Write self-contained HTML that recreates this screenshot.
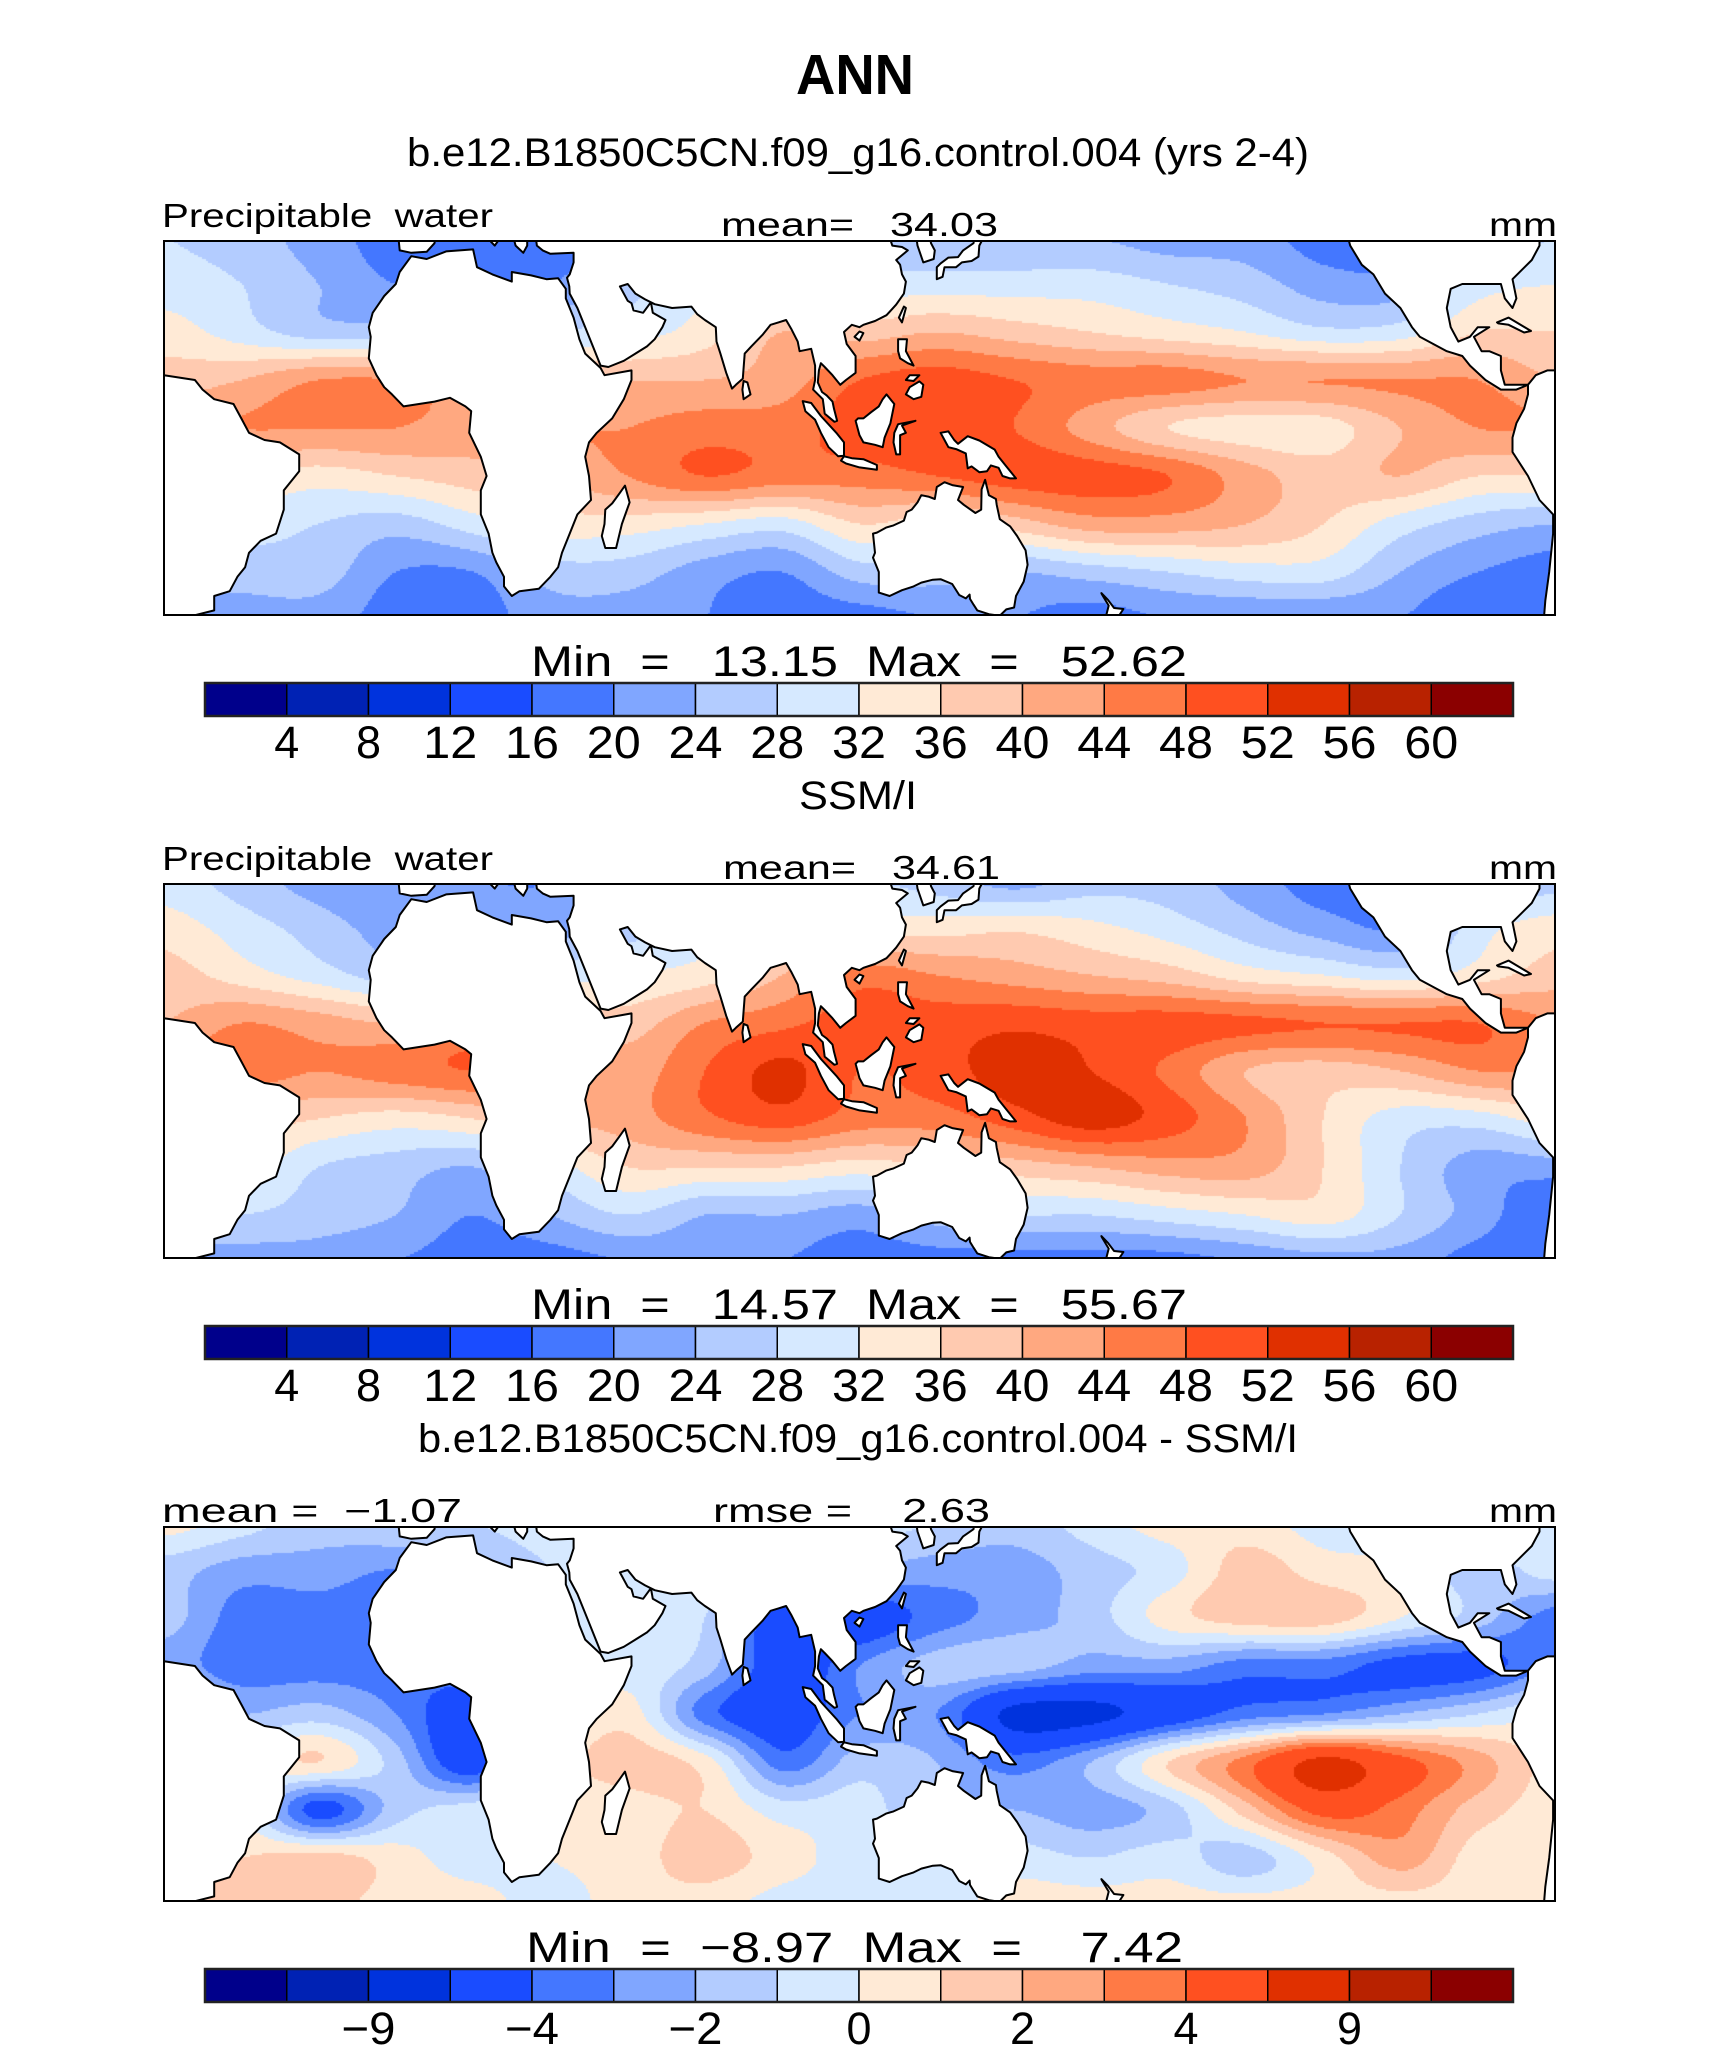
<!DOCTYPE html>
<html><head><meta charset="utf-8"><title>ANN Precipitable water</title>
<style>
html,body{margin:0;padding:0;background:#fff;}
#wrap{position:relative;width:1710px;height:2067px;overflow:hidden;background:#fff;}
canvas{position:absolute;left:164px;}
svg{position:absolute;left:0;top:0;}
text{font-family:"Liberation Sans",sans-serif;fill:#000;white-space:pre;}
</style></head>
<body>
<div id="wrap">
<canvas id="c1" width="1391" height="374" style="top:241px"></canvas>
<canvas id="c2" width="1391" height="374" style="top:884px"></canvas>
<canvas id="c3" width="1391" height="374" style="top:1527px"></canvas>
<svg id="ov" width="1710" height="2067" xmlns="http://www.w3.org/2000/svg" xml:space="preserve">
<text x="855" y="94" text-anchor="middle" font-size="57" font-weight="bold" textLength="118" lengthAdjust="spacingAndGlyphs">ANN</text>
<text x="858" y="166" text-anchor="middle" font-size="40" textLength="902" lengthAdjust="spacingAndGlyphs">b.e12.B1850C5CN.f09_g16.control.004 (yrs 2-4)</text>
<text x="858" y="809" text-anchor="middle" font-size="40" textLength="118" lengthAdjust="spacingAndGlyphs">SSM/I</text>
<text x="858" y="1452" text-anchor="middle" font-size="40" textLength="880" lengthAdjust="spacingAndGlyphs">b.e12.B1850C5CN.f09_g16.control.004 - SSM/I</text>
<text x="162" y="227" font-size="33" textLength="331" lengthAdjust="spacingAndGlyphs">Precipitable  water</text>
<text x="721" y="236" font-size="33" textLength="277" lengthAdjust="spacingAndGlyphs">mean=   34.03</text>
<text x="1557" y="236" font-size="33" text-anchor="end" textLength="68" lengthAdjust="spacingAndGlyphs">mm</text>
<text x="162" y="870" font-size="33" textLength="331" lengthAdjust="spacingAndGlyphs">Precipitable  water</text>
<text x="723" y="879" font-size="33" textLength="277" lengthAdjust="spacingAndGlyphs">mean=   34.61</text>
<text x="1557" y="879" font-size="33" text-anchor="end" textLength="68" lengthAdjust="spacingAndGlyphs">mm</text>
<text x="162" y="1522" font-size="33" textLength="300" lengthAdjust="spacingAndGlyphs">mean =  −1.07</text>
<text x="713" y="1522" font-size="33" textLength="277" lengthAdjust="spacingAndGlyphs">rmse =    2.63</text>
<text x="1557" y="1522" font-size="33" text-anchor="end" textLength="68" lengthAdjust="spacingAndGlyphs">mm</text>
<text x="531" y="676" font-size="43" textLength="656" lengthAdjust="spacingAndGlyphs">Min  =   13.15  Max  =   52.62</text>
<text x="531" y="1319" font-size="43" textLength="656" lengthAdjust="spacingAndGlyphs">Min  =   14.57  Max  =   55.67</text>
<text x="526" y="1962" font-size="43" textLength="657" lengthAdjust="spacingAndGlyphs">Min  =  −8.97  Max  =    7.42</text>
<g id="maps"></g>
<g id="bars"></g>
</svg>
</div>
<script>
// ---------- data ----------
const gridLons = [-70,-50,-30,-10,10,30,50,70,90,110,130,150,170,190,210,230,250,270,290];
const gridLats = [40,30,20,10,0,-10,-20,-30,-40];
const modelPW = [
 [28,26,22,18,18,18,18,20,24,24,24,24,24,22,22,18,18,24,28],
 [30,28,24,20,20,20,26,30,32,30,30,30,30,28,26,22,22,30,32],
 [34,30,26,26,26,28,30,34,40,38,40,38,36,34,32,29,30,36,36],
 [38,40,44,44,40,40,40,40,42,48,50,48,46,46,44,44,44,44,40],
 [42,44,44,44,42,44,44,46,46,50,50,48,42,36,34,34,40,44,44],
 [36,36,34,36,38,40,44,48,46,46,48,50,50,48,42,38,40,36,36],
 [30,30,28,26,30,34,34,32,30,36,34,38,42,42,40,36,30,26,24],
 [26,26,26,20,20,26,26,22,20,26,26,24,26,28,30,30,24,20,18],
 [22,22,22,18,18,22,22,20,18,18,20,20,18,20,20,20,20,16,18]
];
const obsPW = [
 [30,26,22,20,20,20,22,24,26,28,26,22,26,26,22,18,20,24,26],
 [34,30,26,22,22,22,26,30,34,34,34,35,33,30,26,22,20,30,34],
 [38,34,30,26,28,30,32,34,40,46,44,42,40,38,34,32,30,34,38],
 [40,44,42,40,44,40,38,44,47,50,50,51,50,50,49,48,48,48,44],
 [44,46,44,46,48,46,42,48,53,48,50,54,52,47,40,38,40,44,44],
 [38,38,36,34,36,40,42,47,50,46,46,50,54,50,44,36,30,30,34],
 [34,34,28,26,24,30,36,36,36,34,36,38,40,42,42,36,28,22,22],
 [28,28,26,24,20,24,28,24,24,22,26,28,28,30,32,34,28,22,16],
 [22,22,22,20,18,18,20,22,20,18,18,18,18,18,20,22,22,18,18]
];
const diffPW = [
 [0.5,-0.5,-1.5,-1,-1,-0.5,-0.5,-0.5,-0.5,-0.5,-1,-1.5,-0.5,0.5,0.5,-0.5,-0.5,-0.5,-0.5],
 [-1.5,-2.5,-2.5,-3,-2,-1,-0.5,-0.5,-1,-2,-2.5,-2.5,-1.5,-0.5,1.5,0.5,0,-1.5,-0.5],
 [-1.5,-3.5,-3.5,-3.5,-2,-1,-1,-1,-5,-5,-3.5,-2.5,-1.5,0.5,1.5,1.5,0,-1.5,-3.5],
 [-2.5,-3.5,-3.5,-3.5,-3,-1,-0.5,-1.5,-5,-3,-1.5,-1.5,-2.5,-2.5,-3.5,-3.5,-4.5,-4.5,-3],
 [-1,-2,-1.5,-3,-5,-1,0.5,-3.5,-5,-3,-3,-6.5,-6.5,-5,-3.5,-3,-2,-1,0],
 [0,0,1,-1.5,-5,0,1.5,0.5,-3.5,-1.5,-2,-3.5,-2,1,3.5,6.5,4.5,2.5,0.5],
 [0,0,-4.5,-1.5,-0.5,0,0.5,1,-0.5,-0.5,-2,-2,-2.5,-1.5,1.5,4.5,3.5,1.5,0.5],
 [1,1,1.5,0.5,-0.5,0,0.5,1.5,0.5,-0.5,-0.5,-0.5,-1,-0.5,-1.5,0.5,2.5,0.5,0.5],
 [0.5,1.5,1.5,0.5,0.5,-0.5,0.5,0.5,-0.5,-0.5,-0.5,0.5,0.5,0.5,0.5,0.5,0.5,0.5,0.5]
];
const pwLevels = [4,8,12,16,20,24,28,32,36,40,44,48,52,56,60];
const pwTickLabels = ["4","8","12","16","20","24","28","32","36","40","44","48","52","56","60"];
const diffLevels = [-12,-9,-6,-4,-3,-2,-1,0,1,2,3,4,6,9,12];
const diffTickValues = [-9,-4,-2,0,2,4,9];
const diffTickLabels = ["−9","−4","−2","0","2","4","9"];
const colors = ["#00008B","#0022B4","#0033DD","#1A4CFF","#4477FF","#80A6FF","#B3CCFF","#D6E9FF",
 "#FFEAD6","#FFCAB0","#FFA880","#FF7A45","#FF5020","#E03000","#B82200","#8B0000"];

const continents = {
 "south-america-east":[[-70,11],[-66,10.5],[-62,10],[-60,8],[-57,6],[-52,5],[-50,2],[-48,-1],[-44,-2.5],[-40,-3],[-35,-5.5],[-35,-9],[-39,-13],[-39,-17],[-41,-22],[-45,-23.5],[-48,-26],[-49,-29],[-51,-31],[-53,-34],[-57,-35],[-57,-38],[-62,-39],[-65,-41],[-70,-41]],
 "south-america-west":[[283,9],[285,11],[288,12],[290,12],[290,-41],[287,-41],[287.5,-36],[288.5,-30],[289.5,-22],[289.5,-18],[286,-15],[283,-10],[279,-5],[279,-2],[280,1],[282,4],[283,7]],
 "north-america":[[236,41],[237,38],[240,34],[243,32],[246,28],[250,25],[253,21],[255,19],[262,16],[266,15],[268,13],[272,10],[276,8],[280,8],[283,9],[277,9],[276,12],[276,15],[273,16],[271,16],[269,19],[273,21],[270,21],[268,19],[265,18],[263,21],[262,25],[263,29],[266,30],[270,30],[276,30],[277,27],[279,25],[280,27],[279,31],[284,35],[286,38],[286,41]],
 "cuba":[[275,22],[278,23],[283.8,20.2],[282,19.9],[278,21.5],[275.3,21.8]],
 "africa":[[-17,21],[-16,24],[-13,27.5],[-10,30],[-9,32.5],[-6,35.8],[-2,35.2],[3,36.8],[10,37.2],[11,33.5],[15,32],[20,30.5],[20,32.5],[25,31.8],[29,31],[32,31.2],[34,29],[34,27],[36,23],[37.5,18.5],[39,15.5],[43,12.5],[44,11],[51,12],[51,10],[49,6],[46,2],[42,-1],[40,-3],[39,-6],[40,-10],[40.5,-15],[37,-18],[35,-22],[33,-26],[32,-29],[30,-31],[27,-33.5],[22,-34],[20,-35],[18,-33],[18,-31],[16,-28],[15,-26],[14,-22],[12,-18],[12,-13],[13.5,-10],[12,-6],[9,-1],[9.5,3.5],[8,4.5],[4,6.3],[0,5.5],[-4,5],[-8,4.5],[-11,7],[-13,8.5],[-15,11],[-17,14.5],[-16.5,19]],
 "iberia":[[-9.5,41],[-9,37],[-6,36.5],[-2,36.7],[0,38.5],[0.5,41]],
 "italy":[[12,41],[15.6,38],[16.5,39],[17.5,40.3],[16,41]],
 "greece":[[20,41],[21,38],[23,36.5],[24,38],[24,41]],
 "asia":[[26,41],[26.5,38],[28,37],[30,36.3],[36,36.5],[36,34.5],[35,32],[34.3,31.3],[34.9,29.5],[35,28],[37,25],[39,21],[41,17],[43,13],[45,12.7],[49,14],[52,15.5],[55,17],[57,18.5],[59,21],[59.8,22.5],[56.5,24],[56,26.2],[54,24],[51.5,24.5],[51,26],[50,26.5],[48,29.5],[50,30],[52,28],[54.5,26.8],[57,25.8],[61.5,25],[66.5,25.3],[68,23.7],[70,22.5],[72.8,21],[73,18],[74,15.5],[75.5,11.5],[77,8.2],[78,9],[79.8,10.3],[80.3,15.5],[82,17],[85,19.5],[87,21.5],[89,22],[91,22.5],[92.3,20.7],[94,18],[94.5,16],[97.5,16.5],[98.5,13],[98.5,10],[98,8],[100.5,6],[101,3],[103.5,1.3],[104.2,1.5],[103.4,4],[103,5.5],[101.5,6.8],[100.3,7.5],[99.2,9.5],[99.5,12],[100,13.5],[101,12.7],[103,11],[105,9],[106.5,10],[109,11.5],[109,15],[106.7,17.5],[106,20],[108,21.5],[110,21],[111,21.5],[114,22.3],[117,23.5],[119.5,25.7],[121.5,28],[122,30.5],[121,32],[120.5,34],[119.5,35],[122.5,37],[121,37.7],[118.5,38],[118,39.2],[121,40],[121.5,41]],
 "korea":[[124.5,41],[125,38],[126.5,34.5],[129.2,35.2],[129.5,37],[128.5,38.5],[128,41]],
 "japan":[[130,31],[131.5,31.5],[132,33.5],[135,33.5],[136.5,34.5],[139,34.8],[140.8,35.7],[141,38],[142,39.5],[142,41],[140,41],[139.5,38.5],[136.8,37],[135.5,35.6],[133,35.5],[131,34.3],[130,33.5]],
 "taiwan":[[120.2,23],[121,22],[122,25],[121.5,25.3]],
 "hainan":[[108.7,19],[110,18.2],[111,19.8],[110,20.1]],
 "luzon":[[120,18.5],[122.3,18.5],[122,16],[124,13],[122.5,13.5],[120.5,14.5],[120,16]],
 "visayas":[[123,11],[125.5,11],[124,9.8],[122,10]],
 "mindanao":[[122,7],[124,6],[126,6.5],[126.5,9],[125.5,9.7],[123,8.5]],
 "borneo":[[109,1.5],[110,-1.5],[111,-3],[114,-3.5],[116,-4],[116.5,-2],[118,1],[119,5],[117,7],[116,6],[115,4.5],[113,3.3],[111,2],[109.6,2]],
 "sumatra":[[95.3,5.6],[97.5,5.2],[100,2.5],[104,-1],[106,-3],[106,-5.8],[104.5,-5.9],[102,-4],[100,-1],[98.5,1.7],[96,3.5]],
 "java":[[105.2,-6.8],[106,-5.9],[108,-6.3],[111,-6.5],[114.5,-7.7],[114.5,-8.7],[110,-8.2],[106.5,-7.4]],
 "sulawesi":[[119.5,-5.5],[120.5,-5.5],[120.5,-1.5],[122,-1],[121,0.5],[124.5,1.5],[120,0.8],[119,-1],[118.8,-3]],
 "new-guinea":[[131,-1],[133,-0.7],[134.5,-2.5],[135.5,-3.3],[138,-1.7],[141,-2.6],[145,-4.5],[146,-6],[148,-8],[150.5,-10.5],[149,-10.5],[147,-10],[146,-8.3],[144,-7.8],[143,-9],[141,-9.2],[139,-8],[138,-8.4],[137.5,-5.3],[135,-4.4],[133,-4],[132,-2.5]],
 "australia":[[113.5,-22],[114,-26],[113.5,-27],[115,-30],[115,-34.3],[117.8,-35],[121,-33.8],[124,-33],[126,-32.2],[129,-31.6],[131,-31.5],[134,-32.5],[135.8,-34.8],[137.5,-35.5],[138.5,-34.7],[138.6,-35.6],[139.5,-36.8],[140.5,-38],[143.5,-38.8],[146.3,-39.1],[148,-37.8],[150,-37.4],[150.5,-35],[151.3,-33.8],[152.5,-32],[153.5,-28.5],[153,-25.5],[150.8,-22.5],[149,-20.5],[146.3,-19],[145.5,-16],[145.3,-14.8],[143.5,-14],[142.5,-10.8],[141.6,-12.8],[141.5,-17],[140,-17.7],[137,-16],[135.5,-15],[136.8,-12.3],[134,-11.9],[132,-11.3],[130,-12.3],[129.5,-14.8],[127.8,-14.3],[126,-14],[125,-15.5],[123.5,-17],[122.2,-17.5],[121.5,-19.3],[118.8,-20.3],[117,-20.7],[114.5,-21.8]],
 "new-zealand":[[172.6,-34.4],[174.3,-35.8],[175.9,-37.5],[178.3,-37.7],[177,-39.3],[176,-41],[174.5,-41],[174.7,-39.5],[173.8,-39.2],[174.5,-37],[172.7,-34.6]],
 "madagascar":[[44.2,-25],[47,-25],[48.5,-20],[50.5,-15.5],[49.3,-12],[48,-13.5],[46,-15.7],[44.2,-17],[44,-20],[43.3,-22.5]],
 "sri-lanka":[[79.7,8],[80,6],[81.8,7],[81,9.5],[80,9.8]]
};

const MAP_W = 1391, MAP_H = 374, MAP_X = 164;
const panelTops = [241, 884, 1527];
const PX_PER_LON = MAP_W / 360, PX_PER_LAT = 4.8;
function xOf(lon){ return (lon + 70) * PX_PER_LON; }
function yOf(lat){ return MAP_H/2 - lat * PX_PER_LAT; }

function cr(p0,p1,p2,p3,t){
  return p1 + 0.5*t*(p2-p0 + t*(2*p0-5*p1+4*p2-p3 + t*(3*(p1-p2)+p3-p0)));
}
function sample(field, lon, lat){
  const c = (lon - gridLons[0]) / (gridLons[1]-gridLons[0]);
  const r = (gridLats[0] - lat) / (gridLats[0]-gridLats[1]);
  const nc = gridLons.length, nr = gridLats.length;
  const ci = Math.max(0, Math.min(nc-2, Math.floor(c))), ri = Math.max(0, Math.min(nr-2, Math.floor(r)));
  const tc = Math.max(0,Math.min(1,c-ci)), tr = Math.max(0,Math.min(1,r-ri));
  const g = (i,j)=> field[Math.max(0,Math.min(nr-1,i))][Math.max(0,Math.min(nc-1,j))];
  const rows = [];
  for (let k=-1;k<=2;k++){
    rows.push(cr(g(ri+k,ci-1),g(ri+k,ci),g(ri+k,ci+1),g(ri+k,ci+2),tc));
  }
  return cr(rows[0],rows[1],rows[2],rows[3],tr);
}
function levelIndex(v, levels){
  let i = 0; while (i < levels.length && v >= levels[i]) i++; return i;
}
function hexToRgb(h){ return [parseInt(h.substr(1,2),16),parseInt(h.substr(3,2),16),parseInt(h.substr(5,2),16)]; }
const rgb = colors.map(hexToRgb);

function drawField(canvasId, field, levels){
  const cv = document.getElementById(canvasId), ctx = cv.getContext('2d');
  const img = ctx.createImageData(MAP_W, MAP_H), d = img.data;
  const S = 2;
  for (let y=0;y<MAP_H;y+=S){
    const lat = (MAP_H/2 - (y+S/2)) / PX_PER_LAT;
    for (let x=0;x<MAP_W;x+=S){
      const lon = (x+S/2) / PX_PER_LON - 70;
      const col = rgb[levelIndex(sample(field, lon, lat), levels)];
      for (let yy=y; yy<Math.min(y+S,MAP_H); yy++) for (let xx=x; xx<Math.min(x+S,MAP_W); xx++){
        const o = (yy*MAP_W+xx)*4; d[o]=col[0]; d[o+1]=col[1]; d[o+2]=col[2]; d[o+3]=255;
      }
    }
  }
  ctx.putImageData(img,0,0);
}
drawField('c1', modelPW, pwLevels);
drawField('c2', obsPW, pwLevels);
drawField('c3', diffPW, diffLevels);

const NS = "http://www.w3.org/2000/svg";
const maps = document.getElementById('maps');
const panelNames = ['model','obs','diff'];
panelTops.forEach((top, p) => {
  const g = document.createElementNS(NS,'g');
  
  
  g.setAttribute('transform', 'translate(' + MAP_X + ',' + top + ')');
  const clip = document.createElementNS(NS,'clipPath');
  clip.setAttribute('id','clip'+p);
  const cr_ = document.createElementNS(NS,'rect');
  cr_.setAttribute('width',MAP_W); cr_.setAttribute('height',MAP_H);
  clip.appendChild(cr_); g.appendChild(clip);
  const land = document.createElementNS(NS,'g');
  land.setAttribute('clip-path','url(#clip'+p+')');
  for (const name in continents){
    const poly = document.createElementNS(NS,'polygon');
    
    
    poly.setAttribute('points', continents[name].map(q => xOf(q[0]).toFixed(1)+','+yOf(q[1]).toFixed(1)).join(' '));
    poly.setAttribute('fill','#fff'); poly.setAttribute('stroke','#000'); poly.setAttribute('stroke-width','2');
    poly.setAttribute('stroke-linejoin','round');
    land.appendChild(poly);
  }
  g.appendChild(land);
  const frame = document.createElementNS(NS,'rect');
  
  
  frame.setAttribute('width',MAP_W); frame.setAttribute('height',MAP_H);
  frame.setAttribute('fill','none'); frame.setAttribute('stroke','#000'); frame.setAttribute('stroke-width','2');
  g.appendChild(frame);
  maps.appendChild(g);
});

const bars = document.getElementById('bars');
const BAR_X = 205, BAR_W = 1308, BAR_H = 33;
const barTops = [683, 1326, 1969];
const boxW = BAR_W / colors.length;
barTops.forEach((top, p) => {
  const g = document.createElementNS(NS,'g');
  
  
  colors.forEach((c, i) => {
    const r = document.createElementNS(NS,'rect');
    
    
    r.setAttribute('x', BAR_X + i*boxW); r.setAttribute('y', top);
    r.setAttribute('width', boxW); r.setAttribute('height', BAR_H);
    r.setAttribute('fill', c); r.setAttribute('stroke','#000'); r.setAttribute('stroke-width','1.5');
    g.appendChild(r);
  });
  const o = document.createElementNS(NS,'rect');
  
  
  o.setAttribute('x', BAR_X); o.setAttribute('y', top); o.setAttribute('width', BAR_W); o.setAttribute('height', BAR_H);
  o.setAttribute('fill','none'); o.setAttribute('stroke','#222'); o.setAttribute('stroke-width','2.5');
  g.appendChild(o);
  let labels, bounds;
  if (p < 2){ labels = pwTickLabels; bounds = pwLevels.map((v,i)=>i+1); }
  else { labels = diffTickLabels; bounds = diffTickValues.map(v => diffLevels.indexOf(v)+1); }
  labels.forEach((lab, i) => {
    const t = document.createElementNS(NS,'text');
    
    
    t.setAttribute('x', BAR_X + bounds[i]*boxW);
    t.setAttribute('y', top + 75);
    t.setAttribute('text-anchor','middle');
    t.setAttribute('font-size','45');
    const n = lab.length;
    t.setAttribute('textLength', n*25 + (n-1)*4);
    t.setAttribute('lengthAdjust','spacingAndGlyphs');
    t.textContent = lab;
    g.appendChild(t);
  });
  bars.appendChild(g);
});
</script>
</body></html>
